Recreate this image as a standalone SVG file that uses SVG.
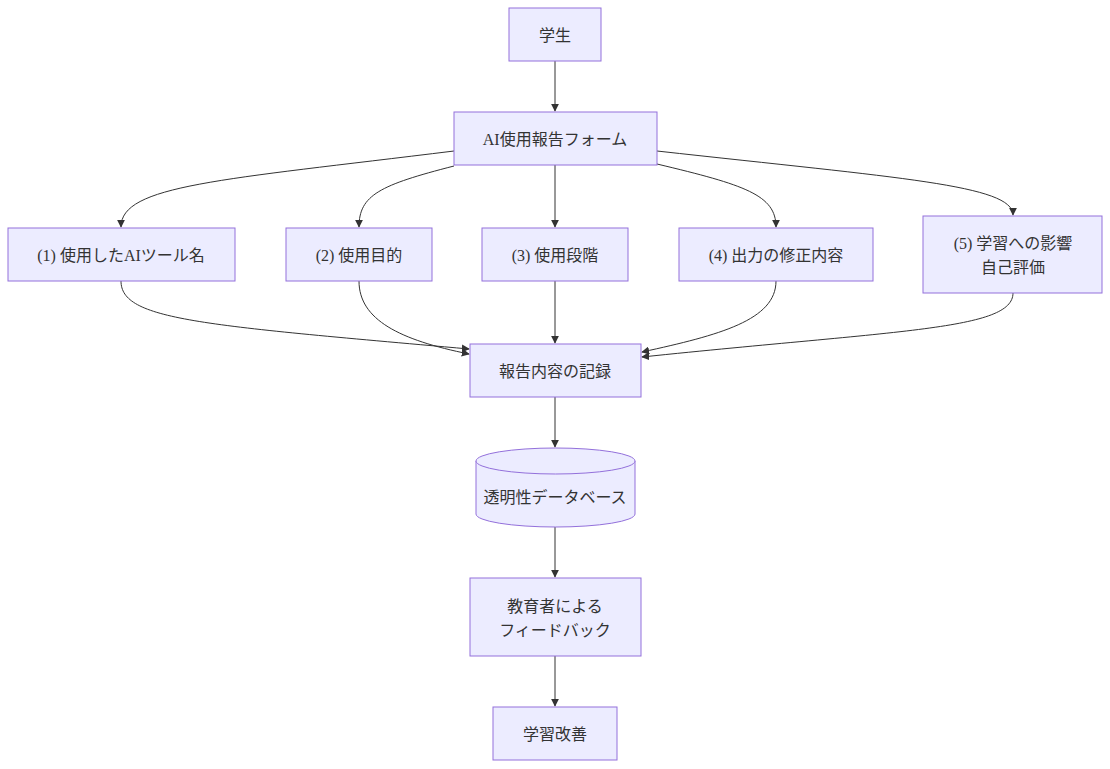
<svg xmlns="http://www.w3.org/2000/svg" width="1110" height="769" viewBox="0 0 1110 769">
<style>
.n{fill:#ECECFF;stroke:#9370DB;stroke-width:1}
.t{font-family:"Liberation Serif","Noto Sans CJK JP",serif;font-size:16px;fill:#333;text-anchor:middle;dominant-baseline:central}
.e{fill:none;stroke:#333;stroke-width:1}
</style>
<defs><marker id="a" viewBox="0 0 10 10" refX="9" refY="5" markerWidth="8" markerHeight="8" orient="auto"><path d="M0,0L10,5L0,10z" fill="#333"/></marker></defs>
<rect width="1110" height="769" fill="#fff"/>
<g id="edges">
<path class="e" marker-end="url(#a)" d="M555,61V111"/>
<path class="e" marker-end="url(#a)" d="M454,151C220,180 121,185 121,227"/>
<path class="e" marker-end="url(#a)" d="M454,166C380,185 359,195 359,227"/>
<path class="e" marker-end="url(#a)" d="M555,165V227"/>
<path class="e" marker-end="url(#a)" d="M657,164C745,185 776,195 776,227"/>
<path class="e" marker-end="url(#a)" d="M657,151C900,178 1013,185 1013,215"/>
<path class="e" marker-end="url(#a)" d="M121,281C121,320 200,325 469,349"/>
<path class="e" marker-end="url(#a)" d="M359,281C359,320 400,340 469,354"/>
<path class="e" marker-end="url(#a)" d="M555,281V343"/>
<path class="e" marker-end="url(#a)" d="M776,281C776,320 720,335 642,352"/>
<path class="e" marker-end="url(#a)" d="M1013,293C1013,330 900,330 642,357"/>
<path class="e" marker-end="url(#a)" d="M555,397V447"/>
<path class="e" marker-end="url(#a)" d="M555,527V577"/>
<path class="e" marker-end="url(#a)" d="M555,656V706"/>
</g>
<g id="n0"><rect class="n" x="509" y="8" width="92" height="53"/><text class="t" x="555" y="35">学生</text></g>
<g id="n1"><rect class="n" x="454" y="112" width="203" height="53"/><text class="t" x="555" y="139">AI使用報告フォーム</text></g>
<g id="n2"><rect class="n" x="8" y="228" width="227" height="53"/><text class="t" x="121" y="255">(1) 使用したAIツール名</text></g>
<g id="n3"><rect class="n" x="286" y="228" width="146" height="53"/><text class="t" x="359" y="255">(2) 使用目的</text></g>
<g id="n4"><rect class="n" x="482" y="228" width="146" height="53"/><text class="t" x="555" y="255">(3) 使用段階</text></g>
<g id="n5"><rect class="n" x="679" y="228" width="194" height="53"/><text class="t" x="776" y="255">(4) 出力の修正内容</text></g>
<g id="n6"><rect class="n" x="923" y="216" width="179" height="77"/><text class="t" x="1013" y="243">(5) 学習への影響</text><text class="t" x="1013" y="267">自己評価</text></g>
<g id="n7"><rect class="n" x="470" y="344" width="171" height="53"/><text class="t" x="555" y="371">報告内容の記録</text></g>
<g id="n8"><path class="n" d="M476,461A79.5,13 0 0 1 635,461V514A79.5,13 0 0 1 476,514Z"/><path class="n" fill="none" d="M476,461A79.5,13 0 0 0 635,461"/><text class="t" x="555" y="497">透明性データベース</text></g>
<g id="n9"><rect class="n" x="470" y="578" width="171" height="78"/><text class="t" x="555" y="606">教育者による</text><text class="t" x="555" y="630">フィードバック</text></g>
<g id="n10"><rect class="n" x="493" y="707" width="124" height="53"/><text class="t" x="555" y="734">学習改善</text></g>
</svg>
